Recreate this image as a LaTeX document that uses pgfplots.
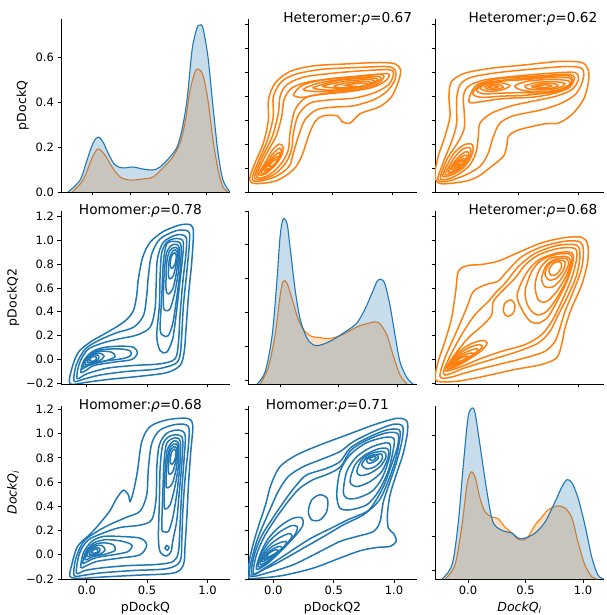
\documentclass[border=0pt]{standalone}
\usepackage{fontspec}
\setmainfont{DejaVu Sans}
\usepackage{pgfplots}
\pgfplotsset{compat=1.18}
\definecolor{cblue}{HTML}{1F77B4}
\definecolor{corange}{HTML}{FF7F0E}
\pgfplotsset{
  pane/.style={scale only axis, width=169pt, height=173pt, anchor=south west,
    axis x line*=bottom, axis y line*=left,
    axis line style={-, line width=0.8pt, black},
    tick style={line width=0.8pt, black},
    major tick length=3.5pt, tick align=outside,
    ticklabel style={font=\fontsize{11.5}{13}\selectfont},
    label style={font=\fontsize{12.5}{14}\selectfont},
    xticklabels={}, yticklabels={},
    clip mode=individual},
  off/.style={pane, xtick={0,0.5,1}, ytick={-0.2,0,0.2,0.4,0.6,0.8,1,1.2}},
  ctb/.style={smooth cycle, line width=1.5pt, cblue},
  cto/.style={smooth cycle, line width=1.5pt, corange},
  fo/.style={fill=corange, fill opacity=0.25, draw=none, smooth},
  fb/.style={fill=cblue, fill opacity=0.25, draw=none, smooth},
  lo/.style={corange, line width=1.1pt, smooth},
  lb/.style={cblue, line width=1.1pt, smooth},
}
\newcommand{\ttl}[2]{\node[font=\fontsize{13.7}{15}\selectfont] at (rel axis cs:#1,1) {#2};}
\begin{document}
\begin{tikzpicture}
\path[use as bounding box] (0,0) rectangle (606pt,615pt);

% row 1, diagonal: pDockQ
\begin{axis}[pane, at={(61pt,423pt)}, xmin=-0.203, xmax=0.902, ymin=0, ymax=0.769,
  xtick={0,0.25,0.5,0.75}, ytick={0,0.2,0.4,0.6}, yticklabels={0.0,0.2,0.4,0.6}, ylabel={pDockQ}]
\addplot[fo] coordinates {(-0.131,0) (-0.059,0.053) (0,0.151) (0.039,0.191) (0.085,0.164) (0.131,0.111) (0.183,0.067) (0.248,0.053) (0.333,0.058) (0.399,0.067) (0.464,0.107) (0.529,0.156) (0.575,0.218) (0.608,0.307) (0.641,0.453) (0.673,0.533) (0.693,0.547) (0.725,0.52) (0.758,0.409) (0.791,0.231) (0.824,0.098) (0.856,0.022) (0.889,0)} \closedcycle;
\addplot[lo] coordinates {(-0.131,0) (-0.059,0.053) (0,0.151) (0.039,0.191) (0.085,0.164) (0.131,0.111) (0.183,0.067) (0.248,0.053) (0.333,0.058) (0.399,0.067) (0.464,0.107) (0.529,0.156) (0.575,0.218) (0.608,0.307) (0.641,0.453) (0.673,0.533) (0.693,0.547) (0.725,0.52) (0.758,0.409) (0.791,0.231) (0.824,0.098) (0.856,0.022) (0.889,0)};
\addplot[fb] coordinates {(-0.157,0) (-0.078,0.053) (-0.033,0.142) (0.007,0.218) (0.039,0.244) (0.072,0.222) (0.105,0.173) (0.150,0.12) (0.203,0.107) (0.268,0.111) (0.333,0.102) (0.399,0.098) (0.444,0.111) (0.510,0.156) (0.556,0.2) (0.588,0.276) (0.621,0.409) (0.654,0.631) (0.686,0.729) (0.706,0.742) (0.725,0.729) (0.758,0.6) (0.791,0.378) (0.824,0.173) (0.856,0.053) (0.902,0)} \closedcycle;
\addplot[lb] coordinates {(-0.157,0) (-0.078,0.053) (-0.033,0.142) (0.007,0.218) (0.039,0.244) (0.072,0.222) (0.105,0.173) (0.150,0.12) (0.203,0.107) (0.268,0.111) (0.333,0.102) (0.399,0.098) (0.444,0.111) (0.510,0.156) (0.556,0.2) (0.588,0.276) (0.621,0.409) (0.654,0.631) (0.686,0.729) (0.706,0.742) (0.725,0.729) (0.758,0.6) (0.791,0.378) (0.824,0.173) (0.856,0.053) (0.902,0)};
\end{axis}

% row 1, col 2: Heteromer pDockQ2 vs pDockQ
\begin{axis}[off, at={(248pt,423pt)}, xmin=-0.203, xmax=1.205, ymin=-0.2, ymax=1.244]
\addplot[cto] coordinates {(-0.19,-0.10) (-0.15,0.03) (-0.075,0.208) (-0.033,0.403) (-0.033,0.569) (0.022,0.708) (0.147,0.806) (0.342,0.853) (0.619,0.869) (0.897,0.881) (1.022,0.869) (1.069,0.819) (1.05,0.722) (0.994,0.597) (0.897,0.514) (0.731,0.453) (0.647,0.375) (0.578,0.389) (0.542,0.436) (0.425,0.436) (0.356,0.389) (0.3,0.264) (0.244,0.097) (0.175,-0.014) (0.036,-0.105) (-0.13,-0.13)};
\addplot[cto] coordinates {(-0.168,-0.088) (-0.115,0.06) (-0.04,0.236) (0.008,0.431) (0.008,0.597) (0.078,0.722) (0.203,0.786) (0.425,0.825) (0.703,0.839) (0.953,0.847) (1.022,0.819) (1.022,0.736) (0.953,0.639) (0.842,0.569) (0.675,0.519) (0.508,0.508) (0.369,0.486) (0.272,0.403) (0.217,0.264) (0.175,0.125) (0.14,0.014) (0.03,-0.07) (-0.11,-0.11)};
\addplot[cto] coordinates {(-0.148,-0.075) (-0.085,0.09) (0.0,0.264) (0.05,0.458) (0.064,0.597) (0.119,0.694) (0.258,0.758) (0.508,0.792) (0.786,0.814) (0.981,0.819) (1.008,0.778) (0.967,0.694) (0.842,0.625) (0.675,0.583) (0.481,0.569) (0.314,0.542) (0.217,0.444) (0.175,0.292) (0.16,0.153) (0.11,0.04) (0.02,-0.05) (-0.09,-0.095)};
\addplot[cto] coordinates {(-0.132,-0.065) (-0.06,0.10) (0.03,0.264) (0.078,0.431) (0.097,0.569) (0.161,0.667) (0.314,0.722) (0.564,0.75) (0.842,0.778) (0.967,0.786) (0.953,0.736) (0.842,0.675) (0.647,0.639) (0.453,0.619) (0.286,0.592) (0.189,0.486) (0.147,0.292) (0.135,0.16) (0.09,0.06) (0.01,-0.03) (-0.075,-0.078)};
\addplot[cto] coordinates {(0.175,0.611) (0.258,0.694) (0.453,0.742) (0.703,0.766) (0.88,0.782) (0.93,0.765) (0.87,0.70) (0.675,0.65) (0.425,0.622) (0.258,0.59)};
\addplot[cto] coordinates {(0.258,0.655) (0.397,0.712) (0.647,0.748) (0.86,0.765) (0.905,0.748) (0.83,0.70) (0.619,0.655) (0.397,0.637)};
\addplot[cto] coordinates {(0.34,0.67) (0.55,0.73) (0.786,0.752) (0.875,0.742) (0.83,0.705) (0.675,0.665) (0.48,0.65)};
\addplot[cto] coordinates {(0.42,0.682) (0.619,0.725) (0.80,0.738) (0.85,0.725) (0.80,0.695) (0.619,0.664)};
\addplot[cto] coordinates {(0.52,0.688) (0.675,0.716) (0.80,0.72) (0.825,0.705) (0.72,0.678) (0.56,0.67)};
\addplot[cto] coordinates {(0.61,0.69) (0.731,0.708) (0.795,0.7) (0.731,0.68)};
\addplot[cto] coordinates {(-0.115,-0.055) (-0.06,0.045) (0.0,0.15) (0.055,0.2) (0.09,0.175) (0.075,0.1) (0.02,0.02) (-0.06,-0.05)};
\addplot[cto] coordinates {(-0.095,-0.04) (-0.045,0.045) (0.01,0.125) (0.06,0.165) (0.075,0.14) (0.055,0.08) (0.0,0.01) (-0.06,-0.04)};
\addplot[cto] coordinates {(-0.075,-0.02) (-0.025,0.055) (0.025,0.11) (0.06,0.13) (0.06,0.1) (0.03,0.045) (-0.035,-0.015)};
\addplot[cto] coordinates {(-0.055,-0.005) (-0.005,0.06) (0.035,0.095) (0.05,0.09) (0.035,0.045) (-0.015,0.0)};
\addplot[cto] coordinates {(-0.03,0.015) (0.01,0.06) (0.04,0.075) (0.035,0.05) (0.0,0.018)};
\ttl{0.59}{Heteromer:{\itshape ρ}=0.67}
\end{axis}

% row 1, col 3: Heteromer DockQi vs pDockQ
\begin{axis}[off, at={(435pt,423pt)}, xmin=-0.194, xmax=1.214, ymin=-0.2, ymax=1.244]
\addplot[cto] coordinates {(-0.194,-0.06) (-0.167,0.097) (-0.111,0.264) (-0.069,0.431) (-0.078,0.597) (-0.056,0.722) (0.056,0.792) (0.278,0.833) (0.556,0.861) (0.833,0.889) (1.028,0.881) (1.083,0.819) (1.083,0.708) (1.042,0.569) (0.944,0.444) (0.833,0.375) (0.722,0.369) (0.556,0.333) (0.472,0.306) (0.417,0.264) (0.403,0.181) (0.375,0.097) (0.278,0.014) (0.167,-0.069) (0.056,-0.111) (-0.15,-0.13)};
\addplot[cto] coordinates {(-0.17,-0.095) (-0.12,0.06) (-0.05,0.236) (-0.014,0.375) (-0.014,0.569) (0.014,0.694) (0.111,0.758) (0.333,0.797) (0.611,0.825) (0.889,0.847) (1.028,0.833) (1.042,0.75) (0.986,0.625) (0.861,0.542) (0.694,0.486) (0.556,0.458) (0.444,0.431) (0.347,0.375) (0.292,0.264) (0.25,0.125) (0.181,0.014) (0.056,-0.06) (-0.09,-0.11)};
\addplot[cto] coordinates {(-0.15,-0.085) (-0.09,0.08) (0.0,0.22) (0.05,0.333) (0.05,0.458) (0.042,0.597) (0.083,0.681) (0.222,0.736) (0.5,0.769) (0.778,0.792) (0.972,0.797) (1.0,0.736) (0.944,0.653) (0.806,0.597) (0.611,0.556) (0.444,0.519) (0.278,0.458) (0.181,0.375) (0.167,0.264) (0.15,0.14) (0.10,0.03) (0.02,-0.04) (-0.08,-0.09)};
\addplot[cto] coordinates {(-0.13,-0.07) (-0.09,0.03) (-0.03,0.13) (0.05,0.195) (0.11,0.2) (0.125,0.16) (0.1,0.08) (0.04,0.0) (-0.05,-0.055)};
\addplot[cto] coordinates {(-0.11,-0.055) (-0.065,0.035) (-0.01,0.115) (0.05,0.165) (0.095,0.168) (0.105,0.135) (0.08,0.07) (0.025,0.005) (-0.05,-0.04)};
\addplot[cto] coordinates {(-0.085,-0.035) (-0.04,0.04) (0.01,0.1) (0.06,0.135) (0.085,0.13) (0.08,0.095) (0.04,0.04) (-0.02,-0.015)};
\addplot[cto] coordinates {(-0.06,-0.01) (-0.02,0.05) (0.03,0.095) (0.07,0.108) (0.07,0.08) (0.03,0.03) (-0.03,-0.005)};
\addplot[cto] coordinates {(-0.035,0.01) (0.005,0.058) (0.045,0.08) (0.06,0.07) (0.035,0.035) (-0.01,0.01)};
\addplot[cto] coordinates {(-0.01,0.025) (0.02,0.055) (0.045,0.062) (0.04,0.042) (0.008,0.025)};
\addplot[cto] coordinates {(0.09,0.58) (0.15,0.69) (0.333,0.745) (0.611,0.765) (0.889,0.782) (0.96,0.77) (0.965,0.735) (0.92,0.667) (0.778,0.618) (0.611,0.59) (0.472,0.585) (0.333,0.575) (0.167,0.55) (0.10,0.545)};
\addplot[cto] coordinates {(0.12,0.62) (0.194,0.70) (0.389,0.735) (0.639,0.755) (0.889,0.772) (0.95,0.752) (0.93,0.69) (0.778,0.635) (0.556,0.607) (0.361,0.600) (0.194,0.59)};
\addplot[cto] coordinates {(0.153,0.653) (0.236,0.71) (0.389,0.728) (0.556,0.738) (0.778,0.757) (0.93,0.75) (0.94,0.708) (0.88,0.655) (0.722,0.625) (0.528,0.63) (0.361,0.625) (0.208,0.62)};
\addplot[cto] coordinates {(0.181,0.667) (0.25,0.705) (0.361,0.71) (0.431,0.686) (0.361,0.652) (0.25,0.64)};
\addplot[cto] coordinates {(0.472,0.686) (0.583,0.725) (0.778,0.74) (0.917,0.728) (0.925,0.696) (0.833,0.652) (0.667,0.636) (0.528,0.65)};
\addplot[cto] coordinates {(0.222,0.675) (0.278,0.697) (0.347,0.693) (0.375,0.675) (0.319,0.657) (0.25,0.657)};
\addplot[cto] coordinates {(0.556,0.686) (0.667,0.715) (0.806,0.72) (0.889,0.703) (0.833,0.667) (0.694,0.652) (0.583,0.662)};
\addplot[cto] coordinates {(0.611,0.681) (0.694,0.703) (0.792,0.705) (0.833,0.686) (0.778,0.667) (0.681,0.662)};
\addplot[cto] coordinates {(0.653,0.681) (0.722,0.695) (0.778,0.686) (0.722,0.671)};
\addplot[cto] coordinates {(0.25,0.675) (0.292,0.688) (0.333,0.679) (0.292,0.666)};
\ttl{0.58}{Heteromer:{\itshape ρ}=0.62}
\end{axis}

% row 2, col 1: Homomer pDockQ vs pDockQ2
\begin{axis}[off, at={(61pt,231pt)}, xmin=-0.213, xmax=1.187, ymin=-0.205, ymax=1.245,
  yticklabels={−0.2,0.0,0.2,0.4,0.6,0.8,1.0,1.2}, ylabel={pDockQ2}]
\addplot[ctb] coordinates {(-0.138,-0.204) (-0.124,-0.078) (-0.07,0.06) (0.028,0.145) (0.138,0.21) (0.249,0.275) (0.331,0.335) (0.387,0.411) (0.414,0.536) (0.428,0.676) (0.464,0.858) (0.525,0.983) (0.635,1.073) (0.773,1.128) (0.862,1.128) (0.884,1.061) (0.870,0.816) (0.843,0.536) (0.823,0.257) (0.807,0.061) (0.773,-0.05) (0.663,-0.11) (0.442,-0.14) (0.193,-0.165) (0,-0.19)};
\addplot[ctb] coordinates {(-0.105,-0.18) (-0.085,-0.04) (-0.01,0.09) (0.11,0.165) (0.249,0.225) (0.387,0.27) (0.47,0.369) (0.497,0.536) (0.511,0.704) (0.539,0.885) (0.608,1.011) (0.746,1.081) (0.843,1.073) (0.851,0.983) (0.829,0.732) (0.801,0.453) (0.787,0.201) (0.773,0.034) (0.732,-0.036) (0.580,-0.08) (0.331,-0.10) (0.110,-0.13) (-0.028,-0.165)};
\addplot[ctb] coordinates {(-0.08,-0.16) (-0.06,-0.03) (0.01,0.085) (0.138,0.14) (0.276,0.175) (0.414,0.205) (0.525,0.27) (0.566,0.425) (0.575,0.620) (0.586,0.844) (0.635,0.983) (0.746,1.045) (0.823,1.025) (0.823,0.899) (0.796,0.648) (0.773,0.369) (0.760,0.145) (0.732,0.006) (0.608,-0.036) (0.387,-0.05) (0.166,-0.073) (0,-0.12)};
\addplot[ctb] coordinates {(-0.050,-0.106) (-0.022,-0.006) (0.047,0.067) (0.144,0.101) (0.276,0.112) (0.387,0.103) (0.420,0.056) (0.373,0) (0.221,-0.022) (0.061,-0.050) (-0.008,-0.092)};
\addplot[ctb] coordinates {(-0.041,-0.078) (-0.014,0) (0.050,0.061) (0.138,0.084) (0.276,0.089) (0.359,0.073) (0.365,0.034) (0.290,0.006) (0.138,-0.014) (0.014,-0.050)};
\addplot[ctb] coordinates {(-0.028,-0.056) (0,0.011) (0.055,0.056) (0.124,0.070) (0.207,0.061) (0.235,0.025) (0.166,-0.008) (0.055,-0.036)};
\addplot[ctb] coordinates {(-0.014,-0.039) (0.006,0.011) (0.055,0.047) (0.110,0.053) (0.144,0.028) (0.110,-0.008) (0.041,-0.034)};
\addplot[ctb] coordinates {(0.006,-0.022) (0.022,0.017) (0.061,0.039) (0.097,0.034) (0.097,0) (0.055,-0.022)};
\addplot[ctb] coordinates {(0.022,-0.008) (0.041,0.020) (0.075,0.025) (0.083,0.006) (0.055,-0.014)};
\addplot[ctb] coordinates {(0.580,0.201) (0.602,0.453) (0.608,0.704) (0.622,0.899) (0.67,0.99) (0.746,1.015) (0.80,0.985) (0.79,0.816) (0.765,0.592) (0.74,0.369) (0.712,0.173) (0.663,0.061) (0.608,0.075)};
\addplot[ctb] coordinates {(0.608,0.257) (0.622,0.536) (0.635,0.816) (0.663,0.969) (0.73,0.99) (0.78,0.96) (0.775,0.760) (0.748,0.536) (0.715,0.313) (0.677,0.201) (0.635,0.201)};
\addplot[ctb] coordinates {(0.635,0.453) (0.641,0.704) (0.663,0.899) (0.718,0.965) (0.765,0.94) (0.762,0.760) (0.730,0.564) (0.691,0.425) (0.655,0.411)};
\addplot[ctb] coordinates {(0.657,0.592) (0.663,0.816) (0.691,0.917) (0.74,0.94) (0.76,0.895) (0.744,0.732) (0.713,0.592) (0.677,0.550)};
\addplot[ctb] coordinates {(0.677,0.704) (0.685,0.844) (0.718,0.915) (0.748,0.905) (0.744,0.816) (0.718,0.704) (0.691,0.676)};
\addplot[ctb] coordinates {(0.691,0.788) (0.702,0.865) (0.729,0.895) (0.742,0.868) (0.732,0.802) (0.707,0.765)};
\ttl{0.47}{Homomer:{\itshape ρ}=0.78}
\end{axis}

% row 2, diagonal: pDockQ2
\begin{axis}[pane, at={(248pt,231pt)}, xmin=-0.274, xmax=1.17, ymin=0, ymax=5.12,
  xtick={0,0.5,1}, ytick={0.117,1.117,2.117,3.117,4.117,5.117}]
\addplot[fo] coordinates {(-0.171,0) (-0.103,0.47) (-0.043,1.43) (0,2.60) (0.026,3.04) (0.060,2.98) (0.103,2.51) (0.145,2.02) (0.188,1.67) (0.256,1.43) (0.342,1.37) (0.427,1.35) (0.513,1.43) (0.598,1.58) (0.684,1.73) (0.769,1.81) (0.812,1.84) (0.855,1.78) (0.915,1.43) (0.966,0.85) (1.026,0.26) (1.085,0)} \closedcycle;
\addplot[lo] coordinates {(-0.171,0) (-0.103,0.47) (-0.043,1.43) (0,2.60) (0.026,3.04) (0.060,2.98) (0.103,2.51) (0.145,2.02) (0.188,1.67) (0.256,1.43) (0.342,1.37) (0.427,1.35) (0.513,1.43) (0.598,1.58) (0.684,1.73) (0.769,1.81) (0.812,1.84) (0.855,1.78) (0.915,1.43) (0.966,0.85) (1.026,0.26) (1.085,0)};
\addplot[fb] coordinates {(-0.197,0) (-0.128,0.35) (-0.068,1.43) (-0.026,3.10) (0,4.36) (0.026,4.88) (0.060,4.74) (0.085,4.06) (0.128,2.81) (0.171,1.93) (0.231,1.35) (0.299,1.14) (0.385,1.20) (0.470,1.35) (0.573,1.58) (0.658,1.81) (0.726,2.22) (0.786,2.69) (0.829,3.04) (0.863,3.10) (0.897,2.95) (0.940,2.31) (0.983,1.43) (1.026,0.64) (1.085,0.18) (1.137,0)} \closedcycle;
\addplot[lb] coordinates {(-0.197,0) (-0.128,0.35) (-0.068,1.43) (-0.026,3.10) (0,4.36) (0.026,4.88) (0.060,4.74) (0.085,4.06) (0.128,2.81) (0.171,1.93) (0.231,1.35) (0.299,1.14) (0.385,1.20) (0.470,1.35) (0.573,1.58) (0.658,1.81) (0.726,2.22) (0.786,2.69) (0.829,3.04) (0.863,3.10) (0.897,2.95) (0.940,2.31) (0.983,1.43) (1.026,0.64) (1.085,0.18) (1.137,0)};
\end{axis}

% row 2, col 3: Heteromer DockQi vs pDockQ2
\begin{axis}[off, at={(435pt,231pt)}, xmin=-0.194, xmax=1.214, ymin=-0.205, ymax=1.245]
\addplot[cto] coordinates {(-0.194,-0.153) (-0.167,-0.014) (-0.111,0.153) (-0.056,0.347) (-0.022,0.569) (0,0.736) (0.069,0.786) (0.194,0.797) (0.333,0.825) (0.5,0.897) (0.694,0.978) (0.889,1.022) (1.028,1.025) (1.078,0.964) (1.078,0.819) (1.028,0.625) (0.944,0.431) (0.889,0.264) (0.861,0.125) (0.819,0.014) (0.694,-0.042) (0.472,-0.083) (0.222,-0.139) (0,-0.181) (-0.153,-0.186)};
\addplot[cto] coordinates {(-0.153,-0.139) (-0.111,0.014) (-0.014,0.236) (0.069,0.431) (0.125,0.569) (0.222,0.625) (0.333,0.658) (0.403,0.736) (0.528,0.861) (0.694,0.944) (0.889,0.992) (1.014,0.986) (1.042,0.917) (1.028,0.764) (0.958,0.569) (0.889,0.403) (0.847,0.264) (0.806,0.153) (0.722,0.069) (0.556,0.014) (0.333,-0.042) (0.111,-0.097) (-0.083,-0.153)};
\addplot[cto] coordinates {(-0.125,-0.111) (-0.069,0.028) (0.028,0.208) (0.139,0.375) (0.25,0.486) (0.319,0.569) (0.389,0.639) (0.5,0.778) (0.639,0.889) (0.833,0.958) (0.986,0.958) (1.014,0.875) (0.986,0.708) (0.917,0.542) (0.833,0.375) (0.764,0.236) (0.667,0.139) (0.5,0.069) (0.278,0) (0.056,-0.069) (-0.083,-0.125)};
\addplot[cto] coordinates {(-0.111,-0.092) (-0.028,0.042) (0.083,0.181) (0.208,0.292) (0.278,0.375) (0.292,0.486) (0.361,0.569) (0.472,0.681) (0.556,0.792) (0.667,0.875) (0.833,0.931) (0.972,0.931) (0.986,0.847) (0.944,0.681) (0.861,0.486) (0.778,0.319) (0.694,0.208) (0.556,0.125) (0.361,0.069) (0.167,0) (0,-0.069)};
\addplot[cto] coordinates {(-0.09,-0.08) (-0.06,-0.02) (0.0,0.06) (0.1,0.13) (0.2,0.16) (0.24,0.14) (0.2,0.08) (0.1,0.01) (0.0,-0.05)};
\addplot[cto] coordinates {(-0.075,-0.065) (-0.045,-0.01) (0.01,0.05) (0.1,0.105) (0.18,0.125) (0.2,0.105) (0.15,0.06) (0.07,0.005) (-0.01,-0.045)};
\addplot[cto] coordinates {(-0.06,-0.05) (-0.03,0.0) (0.03,0.045) (0.11,0.08) (0.16,0.09) (0.155,0.065) (0.09,0.02) (0.0,-0.03)};
\addplot[cto] coordinates {(-0.045,-0.035) (-0.01,0.005) (0.045,0.035) (0.11,0.055) (0.13,0.045) (0.09,0.015) (0.02,-0.02)};
\addplot[cto] coordinates {(-0.03,-0.022) (0.01,0.008) (0.06,0.025) (0.09,0.025) (0.06,0.005) (0.0,-0.018)};
\addplot[cto] coordinates {(0.49,0.54) (0.565,0.72) (0.67,0.835) (0.83,0.895) (0.945,0.895) (0.955,0.815) (0.905,0.655) (0.825,0.49) (0.745,0.355) (0.667,0.305) (0.60,0.32) (0.535,0.41)};
\addplot[cto] coordinates {(0.556,0.569) (0.611,0.736) (0.694,0.833) (0.833,0.885) (0.935,0.88) (0.945,0.815) (0.903,0.667) (0.819,0.514) (0.736,0.403) (0.653,0.375) (0.583,0.444)};
\addplot[cto] coordinates {(0.639,0.625) (0.681,0.764) (0.764,0.847) (0.889,0.865) (0.935,0.83) (0.903,0.708) (0.819,0.569) (0.736,0.486) (0.667,0.5)};
\addplot[cto] coordinates {(0.694,0.681) (0.736,0.792) (0.819,0.845) (0.903,0.845) (0.917,0.792) (0.861,0.681) (0.792,0.611) (0.722,0.611)};
\addplot[cto] coordinates {(0.722,0.722) (0.764,0.806) (0.833,0.833) (0.889,0.819) (0.875,0.75) (0.819,0.681) (0.756,0.667)};
\addplot[cto] coordinates {(0.756,0.75) (0.792,0.806) (0.847,0.819) (0.861,0.778) (0.819,0.714) (0.772,0.708)};
\addplot[cto] coordinates {(0.375,0.403) (0.389,0.472) (0.439,0.5) (0.472,0.458) (0.458,0.389) (0.411,0.361)};
\ttl{0.58}{Heteromer:{\itshape ρ}=0.68}
\end{axis}

% row 3, col 1: Homomer pDockQ vs DockQi
\begin{axis}[off, at={(61pt,36pt)}, xmin=-0.213, xmax=1.187, ymin=-0.2, ymax=1.228,
  xticklabels={0.0,0.5,1.0}, yticklabels={−0.2,0.0,0.2,0.4,0.6,0.8,1.0,1.2},
  xlabel={pDockQ}, ylabel={\itshape DockQ\textsubscript{i}}]
\addplot[ctb] coordinates {(-0.138,-0.179) (-0.124,-0.082) (-0.075,0.07) (0.028,0.17) (0.110,0.26) (0.193,0.365) (0.249,0.467) (0.304,0.533) (0.345,0.495) (0.359,0.440) (0.387,0.522) (0.420,0.687) (0.456,0.934) (0.525,1.058) (0.663,1.113) (0.829,1.126) (0.878,1.071) (0.862,0.852) (0.843,0.577) (0.829,0.302) (0.815,0.082) (0.801,-0.082) (0.718,-0.151) (0.387,-0.17) (0.110,-0.185) (-0.055,-0.195)};
\addplot[ctb] coordinates {(-0.105,-0.17) (-0.09,-0.03) (-0.025,0.11) (0.083,0.19) (0.193,0.25) (0.331,0.31) (0.442,0.36) (0.497,0.495) (0.511,0.714) (0.539,0.920) (0.608,1.030) (0.746,1.077) (0.843,1.058) (0.843,0.907) (0.815,0.632) (0.796,0.357) (0.787,0.110) (0.773,-0.055) (0.663,-0.115) (0.387,-0.13) (0.110,-0.15) (-0.028,-0.17)};
\addplot[ctb] coordinates {(-0.085,-0.15) (-0.06,0.01) (0.01,0.12) (0.138,0.18) (0.276,0.225) (0.442,0.245) (0.539,0.29) (0.575,0.467) (0.580,0.714) (0.602,0.907) (0.663,1.003) (0.760,1.030) (0.815,0.989) (0.807,0.797) (0.787,0.522) (0.773,0.247) (0.760,0.027) (0.718,-0.055) (0.580,-0.08) (0.331,-0.09) (0.110,-0.11) (-0.014,-0.13)};
\addplot[ctb] coordinates {(-0.050,-0.104) (-0.028,0.014) (0.041,0.110) (0.138,0.151) (0.276,0.151) (0.442,0.137) (0.497,0.082) (0.442,0) (0.276,-0.027) (0.083,-0.055) (-0.014,-0.096)};
\addplot[ctb] coordinates {(-0.033,-0.069) (-0.006,0.027) (0.055,0.096) (0.152,0.124) (0.276,0.115) (0.373,0.082) (0.345,0.027) (0.221,0) (0.083,-0.022) (0.006,-0.055)};
\addplot[ctb] coordinates {(-0.014,-0.041) (0.008,0.036) (0.061,0.082) (0.138,0.099) (0.221,0.082) (0.235,0.036) (0.152,0.005) (0.055,-0.014)};
\addplot[ctb] coordinates {(0,-0.014) (0.022,0.041) (0.066,0.071) (0.124,0.077) (0.152,0.041) (0.110,0.005) (0.041,-0.005)};
\addplot[ctb] coordinates {(0.022,0.005) (0.039,0.044) (0.077,0.060) (0.110,0.049) (0.102,0.019) (0.061,0.005)};
\addplot[ctb] coordinates {(0.041,0.019) (0.061,0.044) (0.088,0.047) (0.094,0.027) (0.069,0.014)};
\addplot[ctb] coordinates {(0.649,0.055) (0.663,0.077) (0.682,0.060) (0.669,0.038)};
\addplot[ctb] coordinates {(0.594,0.137) (0.602,0.440) (0.608,0.714) (0.630,0.907) (0.68,0.975) (0.755,0.99) (0.795,0.95) (0.787,0.742) (0.765,0.495) (0.745,0.275) (0.712,0.11) (0.70,0.03) (0.663,-0.01) (0.61,0.02)};
\addplot[ctb] coordinates {(0.622,0.220) (0.630,0.495) (0.641,0.769) (0.663,0.92) (0.73,0.965) (0.775,0.935) (0.772,0.742) (0.745,0.495) (0.712,0.302) (0.677,0.192) (0.641,0.192)};
\addplot[ctb] coordinates {(0.641,0.412) (0.649,0.687) (0.669,0.87) (0.722,0.94) (0.762,0.91) (0.758,0.728) (0.728,0.549) (0.691,0.412) (0.657,0.379)};
\addplot[ctb] coordinates {(0.657,0.577) (0.669,0.797) (0.696,0.895) (0.742,0.915) (0.755,0.87) (0.742,0.714) (0.71,0.591) (0.677,0.555)};
\addplot[ctb] coordinates {(0.677,0.687) (0.685,0.838) (0.718,0.89) (0.745,0.88) (0.742,0.797) (0.716,0.692) (0.691,0.665)};
\addplot[ctb] coordinates {(0.691,0.769) (0.702,0.845) (0.727,0.872) (0.74,0.845) (0.73,0.783) (0.707,0.747)};
\ttl{0.47}{Homomer:{\itshape ρ}=0.68}
\end{axis}

% row 3, col 2: Homomer pDockQ2 vs DockQi
\begin{axis}[off, at={(248pt,36pt)}, xmin=-0.21, xmax=1.19, ymin=-0.2, ymax=1.228,
  xticklabels={0.0,0.5,1.0}, xlabel={pDockQ2}]
\addplot[ctb] coordinates {(-0.207,-0.187) (-0.195,-0.03) (-0.145,0.165) (-0.065,0.412) (-0.02,0.577) (0.055,0.728) (0.193,0.824) (0.387,0.907) (0.608,0.989) (0.829,1.071) (1.022,1.126) (1.105,1.104) (1.110,1.003) (1.072,0.824) (1.017,0.659) (0.967,0.495) (0.945,0.330) (0.953,0.220) (1.000,0.170) (1.017,0.110) (0.967,0.069) (0.856,0.060) (0.718,0.033) (0.552,-0.027) (0.331,-0.110) (0.083,-0.170) (-0.110,-0.192)};
\addplot[ctb] coordinates {(-0.195,-0.175) (-0.175,-0.02) (-0.12,0.16) (-0.035,0.357) (0.04,0.522) (0.124,0.646) (0.249,0.728) (0.387,0.783) (0.552,0.852) (0.663,0.934) (0.829,1.016) (0.994,1.077) (1.072,1.058) (1.064,0.934) (1.022,0.769) (0.967,0.604) (0.912,0.440) (0.884,0.275) (0.829,0.192) (0.691,0.151) (0.552,0.110) (0.387,0.027) (0.166,-0.082) (-0.055,-0.151)};
\addplot[ctb] coordinates {(-0.18,-0.165) (-0.16,-0.01) (-0.10,0.15) (0.0,0.31) (0.11,0.47) (0.193,0.577) (0.276,0.659) (0.442,0.714) (0.552,0.769) (0.635,0.879) (0.773,0.962) (0.939,1.030) (1.044,1.030) (1.044,0.934) (1.008,0.769) (0.939,0.577) (0.870,0.440) (0.746,0.330) (0.580,0.247) (0.442,0.165) (0.249,0.055) (0.055,-0.055) (-0.083,-0.124)};
\addplot[ctb] coordinates {(-0.165,-0.155) (-0.14,0.0) (-0.075,0.15) (0.02,0.3) (0.13,0.45) (0.22,0.55) (0.33,0.62) (0.46,0.67) (0.56,0.73) (0.64,0.86) (0.773,0.945) (0.93,1.005) (1.03,1.0) (1.03,0.9) (0.985,0.76) (0.92,0.58) (0.85,0.45) (0.78,0.36) (0.62,0.29) (0.48,0.22) (0.3,0.13) (0.1,0.0) (-0.07,-0.11)};
\addplot[ctb] coordinates {(-0.14,-0.12) (-0.11,0.0) (-0.045,0.13) (0.055,0.235) (0.16,0.3) (0.235,0.305) (0.245,0.245) (0.185,0.16) (0.08,0.05) (-0.045,-0.07)};
\addplot[ctb] coordinates {(-0.125,-0.1) (-0.095,0.014) (-0.035,0.11) (0.055,0.19) (0.15,0.24) (0.2,0.23) (0.175,0.16) (0.1,0.07) (-0.03,-0.05)};
\addplot[ctb] coordinates {(-0.11,-0.078) (-0.08,0.014) (-0.025,0.085) (0.055,0.143) (0.13,0.175) (0.155,0.155) (0.12,0.1) (0.04,0.02) (-0.05,-0.055)};
\addplot[ctb] coordinates {(-0.095,-0.055) (-0.065,0.014) (-0.014,0.065) (0.055,0.1) (0.105,0.11) (0.1,0.08) (0.04,0.025) (-0.045,-0.035)};
\addplot[ctb] coordinates {(-0.08,-0.035) (-0.05,0.012) (0.0,0.05) (0.055,0.07) (0.07,0.052) (0.03,0.015) (-0.03,-0.02)};
\addplot[ctb] coordinates {(-0.061,-0.017) (-0.028,0.02) (0.022,0.042) (0.04,0.03) (0.005,0.004) (-0.035,-0.015)};
\addplot[ctb] coordinates {(0.290,0.357) (0.318,0.453) (0.387,0.495) (0.448,0.462) (0.442,0.357) (0.387,0.288) (0.318,0.288)};
\addplot[ctb] coordinates {(0.525,0.495) (0.552,0.687) (0.635,0.824) (0.773,0.925) (0.93,0.97) (1.0,0.955) (0.99,0.85) (0.95,0.687) (0.87,0.522) (0.773,0.412) (0.635,0.371) (0.552,0.385)};
\addplot[ctb] coordinates {(0.580,0.522) (0.608,0.687) (0.691,0.810) (0.815,0.89) (0.94,0.925) (0.97,0.9) (0.96,0.797) (0.9,0.632) (0.815,0.522) (0.691,0.467) (0.608,0.467)};
\addplot[ctb] coordinates {(0.635,0.604) (0.677,0.742) (0.760,0.824) (0.870,0.874) (0.945,0.875) (0.952,0.810) (0.898,0.687) (0.801,0.604) (0.691,0.563)};
\addplot[ctb] coordinates {(0.691,0.687) (0.732,0.783) (0.815,0.838) (0.912,0.852) (0.934,0.810) (0.884,0.728) (0.801,0.673) (0.724,0.654)};
\addplot[ctb] coordinates {(0.732,0.742) (0.768,0.797) (0.829,0.824) (0.898,0.830) (0.898,0.783) (0.843,0.728) (0.773,0.709)};
\addplot[ctb] coordinates {(0.773,0.783) (0.807,0.816) (0.856,0.824) (0.870,0.797) (0.829,0.764) (0.787,0.755)};
\addplot[ctb] coordinates {(0.796,0.791) (0.829,0.810) (0.851,0.802) (0.823,0.777)};
\ttl{0.47}{Homomer:{\itshape ρ}=0.71}
\end{axis}

% row 3, diagonal: DockQi
\begin{axis}[pane, at={(435pt,36pt)}, xmin=-0.287, xmax=1.183, ymin=0, ymax=5.16,
  xtick={0,0.5,1}, xticklabels={0.0,0.5,1.0}, ytick={0.27,1.27,2.27,3.27,4.27},
  xlabel={\itshape DockQ\textsubscript{i}}]
\addplot[fo] coordinates {(-0.2,0) (-0.113,0.42) (-0.052,1.61) (-0.009,2.81) (0.026,3.19) (0.061,3.04) (0.104,2.42) (0.148,2.0) (0.209,1.85) (0.261,1.80) (0.322,1.55) (0.383,1.37) (0.435,1.19) (0.478,1.16) (0.522,1.25) (0.583,1.61) (0.643,1.85) (0.696,2.06) (0.774,2.18) (0.843,2.12) (0.904,1.82) (0.957,1.10) (1.017,0.42) (1.078,0.06) (1.13,0)} \closedcycle;
\addplot[lo] coordinates {(-0.2,0) (-0.113,0.42) (-0.052,1.61) (-0.009,2.81) (0.026,3.19) (0.061,3.04) (0.104,2.42) (0.148,2.0) (0.209,1.85) (0.261,1.80) (0.322,1.55) (0.383,1.37) (0.435,1.19) (0.478,1.16) (0.522,1.25) (0.583,1.61) (0.643,1.85) (0.696,2.06) (0.774,2.18) (0.843,2.12) (0.904,1.82) (0.957,1.10) (1.017,0.42) (1.078,0.06) (1.13,0)};
\addplot[fb] coordinates {(-0.226,0) (-0.139,0.42) (-0.087,1.61) (-0.043,3.31) (0,4.81) (0.035,5.10) (0.061,4.96) (0.104,4.0) (0.165,2.60) (0.217,1.70) (0.296,1.45) (0.383,1.37) (0.435,1.22) (0.496,1.22) (0.583,1.37) (0.670,1.70) (0.757,2.30) (0.817,2.75) (0.861,2.96) (0.904,2.87) (0.957,2.42) (1.017,1.61) (1.078,0.63) (1.130,0.12) (1.18,0)} \closedcycle;
\addplot[lb] coordinates {(-0.226,0) (-0.139,0.42) (-0.087,1.61) (-0.043,3.31) (0,4.81) (0.035,5.10) (0.061,4.96) (0.104,4.0) (0.165,2.60) (0.217,1.70) (0.296,1.45) (0.383,1.37) (0.435,1.22) (0.496,1.22) (0.583,1.37) (0.670,1.70) (0.757,2.30) (0.817,2.75) (0.861,2.96) (0.904,2.87) (0.957,2.42) (1.017,1.61) (1.078,0.63) (1.130,0.12) (1.18,0)};
\end{axis}
\end{tikzpicture}
\end{document}
